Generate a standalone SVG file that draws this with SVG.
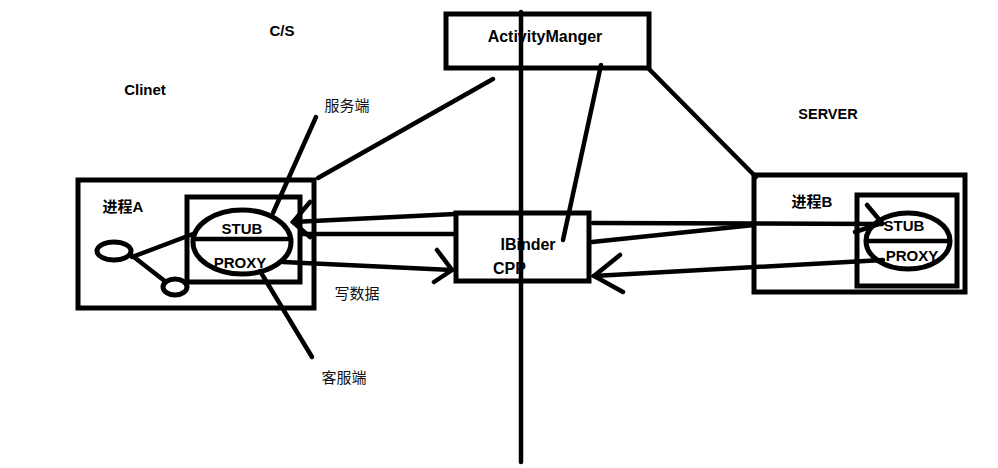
<svg xmlns="http://www.w3.org/2000/svg" width="998" height="468" viewBox="0 0 998 468">
<style>
.b{fill:none;stroke:#000;stroke-width:5}
.l{fill:none;stroke:#000;stroke-width:4.5;stroke-linecap:round}
.t{font-family:"Liberation Sans",Arial,sans-serif;font-weight:bold;font-size:15px;fill:#000;text-anchor:middle;dominant-baseline:central}
.c{font-family:"Liberation Sans","Noto Sans CJK SC",sans-serif;font-size:15px;fill:#111;text-anchor:middle;dominant-baseline:central}
.cb{font-family:"Liberation Sans","Noto Sans CJK SC",sans-serif;font-weight:bold;font-size:15px;fill:#000;text-anchor:middle;dominant-baseline:central}
</style>
<rect width="998" height="468" fill="#fff"/>
<g id="labels">
<text class="t" x="282" y="30">C/S</text>
<text class="t" x="145" y="89">Clinet</text>
<text class="t" x="828" y="114" style="font-size:14.5px">SERVER</text>
<text class="c" x="347" y="105">服务端</text>
<text class="c" x="357" y="293">写数据</text>
<text class="c" x="344" y="377">客服端</text>
</g>
<g id="activitymanager">
<rect class="b" x="446" y="14" width="203" height="54"/>
<text class="t" x="545" y="36" style="font-size:16px">ActivityManger</text>
</g>
<g id="ibinder">
<rect class="b" x="456" y="213" width="133" height="68"/>
<text class="t" x="528" y="244" style="font-size:16px">IBinder</text>
<text class="t" x="493" y="268" style="text-anchor:start;font-size:16px">CPP</text>
</g>
<g id="processA">
<rect class="b" x="78" y="180" width="236" height="128"/>
<text class="cb" x="123" y="206">进程A</text>
<rect class="b" x="187" y="197" width="113" height="85"/>
<ellipse class="b" cx="242" cy="242" rx="49" ry="32"/>
<line class="l" x1="193" y1="239" x2="291" y2="239"/>
<text class="t" x="242" y="228">STUB</text>
<text class="t" x="240" y="262">PROXY</text>
<ellipse class="b" cx="114" cy="251" rx="17" ry="9"/>
<ellipse class="b" cx="175" cy="287" rx="12" ry="8"/>
<line class="l" x1="132" y1="257" x2="193" y2="234"/>
<line class="l" x1="130" y1="254" x2="166" y2="282"/>
</g>
<g id="processB">
<rect class="b" x="754" y="175" width="211" height="117"/>
<text class="cb" x="812" y="201">进程B</text>
<rect class="b" x="857" y="195" width="100" height="91"/>
<ellipse class="b" cx="908" cy="241" rx="42" ry="28"/>
<line class="l" x1="866" y1="241" x2="950" y2="241"/>
<text class="t" x="904" y="225">STUB</text>
<text class="t" x="912" y="255">PROXY</text>
</g>
<g id="connectors">
<line class="l" x1="521" y1="12" x2="521" y2="462"/>
<line class="l" x1="493" y1="79" x2="318" y2="178"/>
<line class="l" x1="601" y1="65" x2="563" y2="240"/>
<line class="l" x1="648" y1="68" x2="756" y2="177"/>
<line class="l" x1="316" y1="117" x2="273" y2="213"/>
<line class="l" x1="260" y1="271" x2="312" y2="357"/>
<polyline class="l" points="455,214 293,222"/>
<polyline class="l" points="310,202 293,222 310,237"/>
<line class="l" x1="300" y1="234" x2="455" y2="234"/>
<line class="l" x1="283" y1="262" x2="452" y2="270"/>
<polyline class="l" points="437,250 452,270 434,282"/>
<line class="l" x1="593" y1="223" x2="882" y2="224"/>
<polyline class="l" points="867,205 882,223 855,232"/>
<line class="l" x1="592" y1="242" x2="754" y2="225"/>
<line class="l" x1="883" y1="260" x2="594" y2="276"/>
<polyline class="l" points="620,255 594,276 623,292"/>
</g>
</svg>
